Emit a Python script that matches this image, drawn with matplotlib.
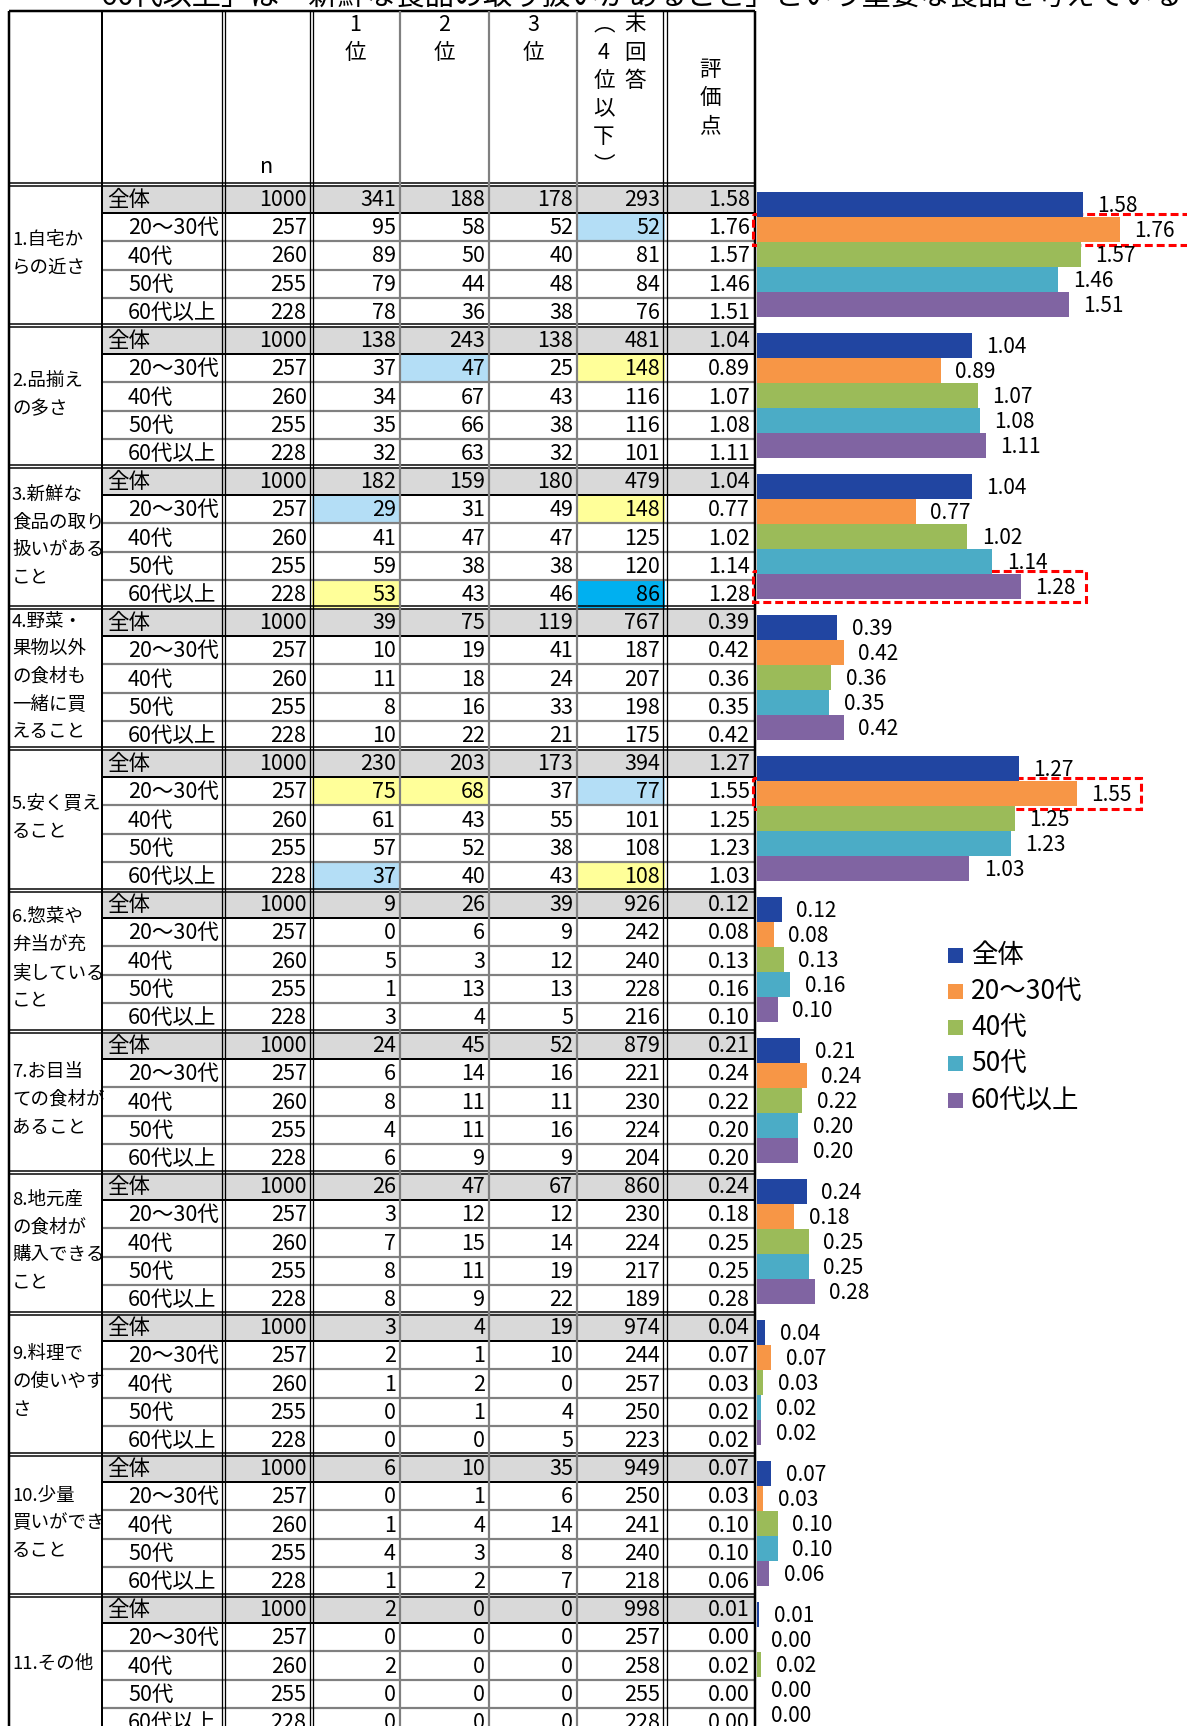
import matplotlib
matplotlib.use("Agg")
import matplotlib.pyplot as plt
from matplotlib.patches import Rectangle
import numpy as np

plt.rcParams['font.family'] = ['Noto Sans CJK JP', 'DejaVu Sans']

# ---------------- data ----------------
title_text = "「60代以上」は「新鮮な食品の取り扱いがあること」という重要な食品を考えている"

group_labels = [
    ["1.自宅か", "らの近さ"],
    ["2.品揃え", "の多さ"],
    ["3.新鮮な", "食品の取り", "扱いがある", "こと"],
    ["4.野菜・", "果物以外", "の食材も", "一緒に買", "えること"],
    ["5.安く買え", "ること"],
    ["6.惣菜や", "弁当が充", "実している", "こと"],
    ["7.お目当", "ての食材が", "あること"],
    ["8.地元産", "の食材が", "購入できる", "こと"],
    ["9.料理で", "の使いやす", "さ"],
    ["10.少量", "買いができ", "ること"],
    ["11.その他"],
]
segments = ["全体", "20～30代", "40代", "50代", "60代以上"]
n_values = [1000, 257, 260, 255, 228]

rank1 = [
    [341, 95, 89, 79, 78],
    [138, 37, 34, 35, 32],
    [182, 29, 41, 59, 53],
    [39, 10, 11, 8, 10],
    [230, 75, 61, 57, 37],
    [9, 0, 5, 1, 3],
    [24, 6, 8, 4, 6],
    [26, 3, 7, 8, 8],
    [3, 2, 1, 0, 0],
    [6, 0, 1, 4, 1],
    [2, 0, 2, 0, 0],
]
rank2 = [
    [188, 58, 50, 44, 36],
    [243, 47, 67, 66, 63],
    [159, 31, 47, 38, 43],
    [75, 19, 18, 16, 22],
    [203, 68, 43, 52, 40],
    [26, 6, 3, 13, 4],
    [45, 14, 11, 11, 9],
    [47, 12, 15, 11, 9],
    [4, 1, 2, 1, 0],
    [10, 1, 4, 3, 2],
    [0, 0, 0, 0, 0],
]
rank3 = [
    [178, 52, 40, 48, 38],
    [138, 25, 43, 38, 32],
    [180, 49, 47, 38, 46],
    [119, 41, 24, 33, 21],
    [173, 37, 55, 38, 43],
    [39, 9, 12, 13, 5],
    [52, 16, 11, 16, 9],
    [67, 12, 14, 19, 22],
    [19, 10, 0, 4, 5],
    [35, 6, 14, 8, 7],
    [0, 0, 0, 0, 0],
]
unanswered = [
    [293, 52, 81, 84, 76],
    [481, 148, 116, 116, 101],
    [479, 148, 125, 120, 86],
    [767, 187, 207, 198, 175],
    [394, 77, 101, 108, 108],
    [926, 242, 240, 228, 216],
    [879, 221, 230, 224, 204],
    [860, 230, 224, 217, 189],
    [974, 244, 257, 250, 223],
    [949, 250, 241, 240, 218],
    [998, 257, 258, 255, 228],
]
scores = [
    [1.58, 1.76, 1.57, 1.46, 1.51],
    [1.04, 0.89, 1.07, 1.08, 1.11],
    [1.04, 0.77, 1.02, 1.14, 1.28],
    [0.39, 0.42, 0.36, 0.35, 0.42],
    [1.27, 1.55, 1.25, 1.23, 1.03],
    [0.12, 0.08, 0.13, 0.16, 0.10],
    [0.21, 0.24, 0.22, 0.20, 0.20],
    [0.24, 0.18, 0.25, 0.25, 0.28],
    [0.04, 0.07, 0.03, 0.02, 0.02],
    [0.07, 0.03, 0.10, 0.10, 0.06],
    [0.01, 0.00, 0.02, 0.00, 0.00],
]

# highlighted cells: (group, row, column index 0=1位..3=未回答, kind)
highlights = [
    (0, 1, 3, "lb"),
    (1, 1, 1, "lb"), (1, 1, 3, "y"),
    (2, 1, 0, "lb"), (2, 1, 3, "y"), (2, 4, 0, "y"), (2, 4, 3, "b"),
    (4, 1, 0, "y"), (4, 1, 1, "y"), (4, 1, 3, "lb"), (4, 4, 0, "lb"), (4, 4, 3, "y"),
]
# emphasised bars: (group, series, right edge of the box in px)
emphasis = [(0, 1, 1200), (2, 4, 1086), (4, 1, 1141)]

series_colors = ["#2145A1", "#F79646", "#9BBB59", "#4BACC6", "#8064A2"]
hl_colors = {"lb": "#B4DEF6", "y": "#FFFF99", "b": "#00B0F0"}

# ---------------- layout ----------------
W, H = 1187, 1726
fig = plt.figure(figsize=(W / 100, H / 100), dpi=100)
ax = fig.add_axes([0, 0, 1, 1])
ax.set_xlim(0, W)
ax.set_ylim(H, 0)
ax.axis('off')

def px(v):
    return v * 0.72

X = [9, 102, 223.5, 311.5, 400, 489, 577, 665, 755]
HEAD_TOP, HEAD_BOT = 11, 184
G0, GP = 185, 141.0
RH = GP / 5
FS_T = 15.5

# title (clipped at top)
ax.text(72, 5, title_text, fontsize=21, va='baseline', ha='left', clip_on=True)

# fills
for g in range(11):
    top = G0 + g * GP
    ax.add_patch(Rectangle((X[1], top), X[8] - X[1], RH, facecolor="#D9D9D9", edgecolor='none', zorder=1))
for g, r, c, k in highlights:
    top = G0 + g * GP + r * RH
    ax.add_patch(Rectangle((X[3 + c], top), X[4 + c] - X[3 + c], RH, facecolor=hl_colors[k],
                           edgecolor='none', zorder=1))

# horizontal lines
def hline(y, x0, x1, color='black', w=2.0):
    ax.plot([x0, x1], [y, y], color=color, lw=px(w), solid_capstyle='butt', zorder=3)

hline(HEAD_TOP, X[0], X[8], w=2.5)
for g in range(11):
    top = G0 + g * GP
    hline(top - 1.5, X[0], X[8], w=1.5)
    hline(top + 1.5, X[0], X[8], w=1.5)
    hline(top + RH, X[1], X[8], w=2.0)
    for r in range(2, 5):
        hline(top + r * RH, X[1], X[8], color="#808080", w=2.2)

# vertical lines
def vline(x, y0, y1, color='black', w=2.0):
    ax.plot([x, x], [y0, y1], color=color, lw=px(w), solid_capstyle='butt', zorder=3)

vline(X[0], HEAD_TOP, H, w=2.5)
vline(X[1], HEAD_TOP, H, w=2.0)
for xx in (X[2], X[3], X[7]):
    vline(xx - 1.7, HEAD_TOP, H, w=1.3)
    vline(xx + 1.7, HEAD_TOP, H, w=1.3)
for xx in (X[4], X[5], X[6]):
    vline(xx, HEAD_TOP, H, color="#808080", w=2.2)
vline(X[8], HEAD_TOP, H, w=2.5)

# header texts
ax.text(267, 167, "n", fontsize=FS_T, ha='center', va='center')
for i, xc in enumerate([355, 444, 533]):
    ax.text(xc, 25, str(i + 1), fontsize=FS_T, ha='center', va='center')
    ax.text(xc, 53, "位", fontsize=FS_T, ha='center', va='center')
for ch, yy in zip(["︵", "4", "位", "以", "下", "︶"], [24, 53, 81, 109, 137, 165]):
    ax.text(604, yy, ch, fontsize=FS_T, ha='center', va='center')
for ch, yy in zip(["未", "回", "答"], [24, 53, 81]):
    ax.text(635, yy, ch, fontsize=FS_T, ha='center', va='center')
for ch, yy in zip(["評", "価", "点"], [70, 98, 126]):
    ax.text(710, yy, ch, fontsize=FS_T, ha='center', va='center')

# body texts
for g in range(11):
    top = G0 + g * GP
    lines = group_labels[g]
    nl = len(lines)
    for k, line in enumerate(lines):
        yy = top + 69 + (k - (nl - 1) / 2) * 27.7
        ax.text(12, yy, line, fontsize=13.3, ha='left', va='center')
    for r in range(5):
        yb = top + r * RH + RH / 2 + 7
        ax.text(107 if r == 0 else 128, yb, segments[r], fontsize=FS_T, ha='left', va='baseline', zorder=4)
        vals = [n_values[r], rank1[g][r], rank2[g][r], rank3[g][r], unanswered[g][r]]
        rights = [X[3] - 5, X[4] - 4, X[5] - 4, X[6] - 4, X[7] - 5]
        for v, xr in zip(vals, rights):
            ax.text(xr, yb, str(v), fontsize=FS_T, ha='right', va='baseline', zorder=4)
        ax.text(X[8] - 5, yb, f"{scores[g][r]:.2f}", fontsize=FS_T, ha='right', va='baseline', zorder=4)

# ---------------- bars ----------------
X0 = 757
SCALE = 206.3
bax = fig.add_axes([X0 / W, 0, (W - X0) / W, 1])
bax.set_xlim(0, (W - X0) / SCALE)
bax.set_ylim(H, 0)
bax.axis('off')
BH = 25
sc = np.array(scores)
for i in range(5):
    ys = [G0 + g * GP + 7 + BH / 2 + i * BH for g in range(11)]
    bax.barh(ys, sc[:, i], height=BH, color=series_colors[i], edgecolor='none', label=segments[i])
    for y, v in zip(ys, sc[:, i]):
        bax.text(v + 14.5 / SCALE, y + 1.5, f"{v:.2f}", fontsize=15, ha='left', va='center')

# emphasis boxes
for g, i, xr in emphasis:
    y0 = G0 + g * GP + 7 + i * BH - 3
    ax.add_patch(Rectangle((753, y0), xr - 753, BH + 6, facecolor='none', edgecolor='#FF0000',
                           lw=2.2, linestyle=(0, (2.6, 1.3)), zorder=6))

# legend
for i, lab in enumerate(segments):
    yc = 955 + i * 36.3
    ax.add_patch(Rectangle((948, yc - 7.5), 15, 15, facecolor=series_colors[i], edgecolor='none'))
    ax.text(971, yc, lab, fontsize=19, ha='left', va='center')

fig.savefig("out.png", dpi=100)
